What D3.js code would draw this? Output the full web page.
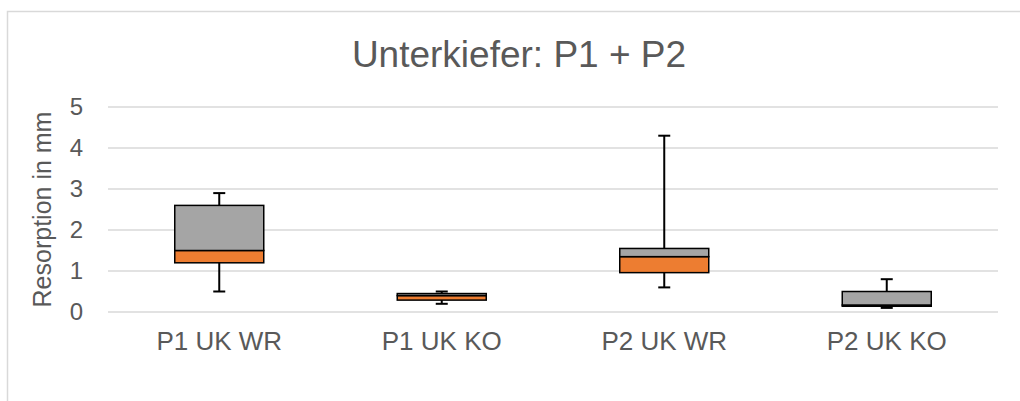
<!DOCTYPE html>
<html>
<head>
<meta charset="utf-8">
<script src="https://cdn.jsdelivr.net/npm/d3@7"></script>
<style>
  body { margin: 0; background: #fff; }
  svg text { font-family: "Liberation Sans", Arial, sans-serif; fill: #595959; }
</style>
</head>
<body>
<svg id="chart"></svg>
<script>
// box plot data
const categories = ['P1 UK WR', 'P1 UK KO', 'P2 UK WR', 'P2 UK KO'];
const minVals    = [0.5, 0.2, 0.6, 0.1];
const q1Vals     = [1.2, 0.29, 0.96, 0.14];
const medianVals = [1.5, 0.40, 1.35, 0.17];
const q3Vals     = [2.6, 0.45, 1.55, 0.5];
const maxVals    = [2.9, 0.5, 4.3, 0.8];
const yTicks = [0, 1, 2, 3, 4, 5];

const config = {
  width: 1020,
  height: 401,
  margin: {top: 107, right: 22, bottom: 89, left: 108}
};

const data = categories.map((c, i) => ({
  cat: c, min: minVals[i], q1: q1Vals[i], median: medianVals[i], q3: q3Vals[i], max: maxVals[i]
}));

const innerW = config.width - config.margin.left - config.margin.right;
const innerH = config.height - config.margin.top - config.margin.bottom;

const svg = d3.select('#chart')
  .attr('width', config.width)
  .attr('height', config.height);

// chart frame (only top/left visible in the crop)
svg.append('rect')
  .attr('x', 7.5).attr('y', 11.5)
  .attr('width', 1040).attr('height', 420)
  .attr('fill', 'none')
  .attr('stroke', '#d9d9d9')
  .attr('stroke-width', 1.5);

svg.append('text')
  .attr('x', 519)
  .attr('y', 67)
  .attr('text-anchor', 'middle')
  .style('font-size', '37px')
  .text('Unterkiefer: P1 + P2');

const chart = svg.append('g')
  .attr('transform', `translate(${config.margin.left},${config.margin.top})`);

const xScale = d3.scaleBand()
  .domain(categories)
  .range([0, innerW]);

const yScale = d3.scaleLinear()
  .domain([0, 5])
  .range([innerH, 0]);

// gridlines
chart.append('g')
  .selectAll('line')
  .data(yTicks)
  .join('line')
    .attr('x1', 0)
    .attr('x2', innerW)
    .attr('y1', d => yScale(d))
    .attr('y2', d => yScale(d))
    .attr('stroke', '#d9d9d9')
    .attr('stroke-width', 1.5);

// y axis labels
const yAxis = d3.axisLeft(yScale)
  .tickValues(yTicks)
  .tickFormat(d3.format('d'))
  .tickSize(0)
  .tickPadding(25);
const yAxisG = chart.append('g').call(yAxis);
yAxisG.select('.domain').remove();
yAxisG.selectAll('text')
  .style('font-size', '24px')
  .style('fill', '#595959')
  .style('font-family', '"Liberation Sans", Arial, sans-serif');

// x axis labels
const xAxis = d3.axisBottom(xScale).tickSize(0).tickPadding(20);
const xAxisG = chart.append('g')
  .attr('transform', `translate(0,${innerH})`)
  .call(xAxis);
xAxisG.select('.domain').remove();
xAxisG.selectAll('text')
  .style('font-size', '26px')
  .style('fill', '#595959')
  .style('font-family', '"Liberation Sans", Arial, sans-serif');

// axis title
svg.append('text')
  .attr('transform', `translate(51,${config.margin.top + innerH / 2}) rotate(-90)`)
  .attr('text-anchor', 'middle')
  .style('font-size', '25px')
  .text('Resorption in mm');

const boxW = xScale.bandwidth() * 0.4;
const capW = 12;

const boxes = chart.selectAll('.box')
  .data(data)
  .join('g')
    .attr('class', 'box')
    .attr('transform', d => `translate(${xScale(d.cat) + xScale.bandwidth() / 2},0)`);

// whiskers
boxes.append('line')
  .attr('x1', 0).attr('x2', 0)
  .attr('y1', d => yScale(d.max))
  .attr('y2', d => yScale(d.min))
  .attr('stroke', '#000').attr('stroke-width', 2);

boxes.selectAll('.cap')
  .data(d => [d.min, d.max])
  .join('line')
    .attr('class', 'cap')
    .attr('x1', -capW / 2).attr('x2', capW / 2)
    .attr('y1', v => yScale(v)).attr('y2', v => yScale(v))
    .attr('stroke', '#000').attr('stroke-width', 2);

// lower box: Q1 to median
boxes.append('rect')
  .attr('x', -boxW / 2)
  .attr('width', boxW)
  .attr('y', d => yScale(d.median))
  .attr('height', d => yScale(d.q1) - yScale(d.median))
  .attr('fill', '#ed7d31')
  .attr('stroke', '#000').attr('stroke-width', 1.5);

// upper box: median to Q3
boxes.append('rect')
  .attr('x', -boxW / 2)
  .attr('width', boxW)
  .attr('y', d => yScale(d.q3))
  .attr('height', d => yScale(d.median) - yScale(d.q3))
  .attr('fill', '#a5a5a5')
  .attr('stroke', '#000').attr('stroke-width', 1.5);
</script>
</body>
</html>
